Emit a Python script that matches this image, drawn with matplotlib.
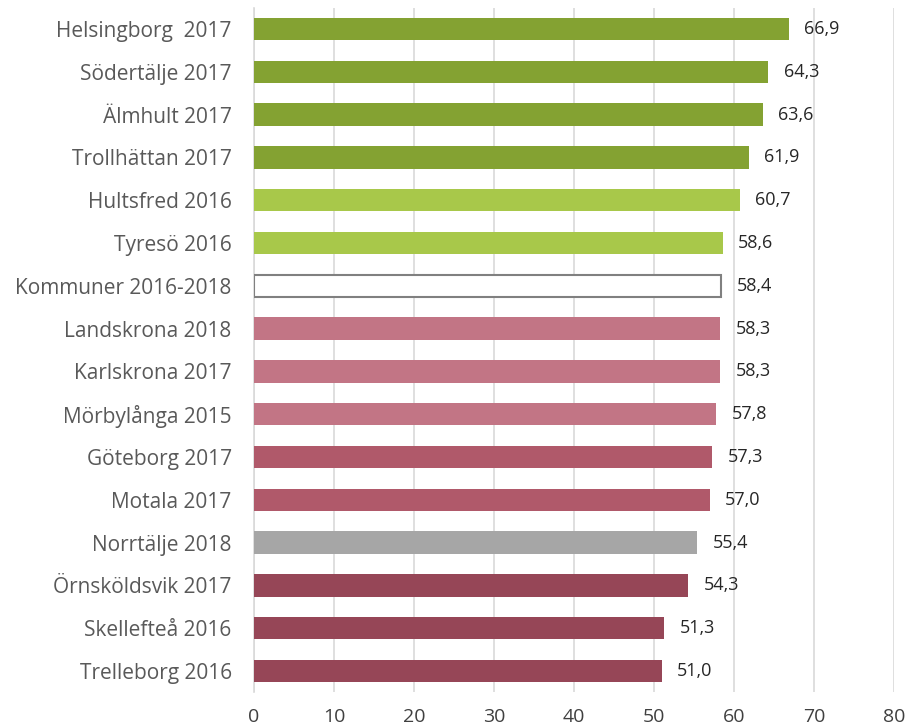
import matplotlib
matplotlib.use("Agg")
import matplotlib.pyplot as plt

labels = ["Helsingborg  2017", "Södertälje 2017", "Älmhult 2017", "Trollhättan 2017",
          "Hultsfred 2016", "Tyresö 2016", "Kommuner 2016-2018", "Landskrona 2018",
          "Karlskrona 2017", "Mörbylånga 2015", "Göteborg 2017", "Motala 2017",
          "Norrtälje 2018", "Örnsköldsvik 2017", "Skellefteå 2016", "Trelleborg 2016"]
values = [66.9, 64.3, 63.6, 61.9, 60.7, 58.6, 58.4, 58.3, 58.3, 57.8, 57.3, 57.0,
          55.4, 54.3, 51.3, 51.0]
colors = ["#84A232", "#84A232", "#84A232", "#84A232", "#A8C84A", "#A8C84A", "#FFFFFF",
          "#C27585", "#C27585", "#C27585", "#B0596A", "#B0596A", "#A6A6A6",
          "#964657", "#964657", "#964657"]
edges = ["none"] * 16
edges[6] = "#808080"
xticks = [0, 10, 20, 30, 40, 50, 60, 70, 80]

plt.rcParams['font.family'] = ['Open Sans', 'DejaVu Sans']
fig = plt.figure(figsize=(9.08, 7.28), dpi=100)
ax = fig.add_axes([0.2797, 0.0489, 0.7049, 0.9407])

ypos = list(range(len(labels)))
for y, v, c, e in zip(ypos, values, colors, edges):
    lw = 1.5 if e != "none" else 0
    ax.barh(y, v, height=0.52, color=c, edgecolor=e, linewidth=lw, zorder=3)
    ax.annotate(f"{v:.1f}".replace(".", ","), xy=(v, y), xytext=(11, 0),
                textcoords="offset points",
                va="center", ha="left", fontsize=13, color="#262626")

ax.set_ylim(len(labels) - 0.5, -0.5)
ax.set_xlim(0, 80)
ax.set_xticks(xticks)
ax.set_xticklabels([str(t) for t in xticks], fontsize=14, color="#404040")
ax.set_yticks(ypos)
ax.set_yticklabels(labels, fontsize=15, color="#595959")
ax.tick_params(axis="both", length=0)
ax.tick_params(axis="y", pad=16)
ax.tick_params(axis="x", pad=11)
ax.xaxis.grid(True, color="#D9D9D9", linewidth=1.2, zorder=0)
for s in ["top", "right", "bottom"]:
    ax.spines[s].set_visible(False)
ax.spines["left"].set_color("#D9D9D9")
ax.spines["left"].set_linewidth(1.2)

fig.savefig("out.png", dpi=100)
